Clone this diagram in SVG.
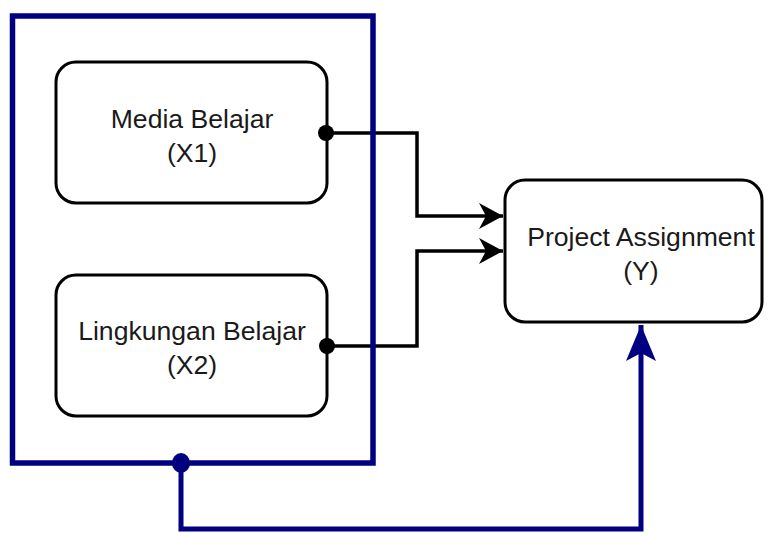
<svg xmlns="http://www.w3.org/2000/svg" width="768" height="533" viewBox="0 0 768 533">
<style>
.node{fill:#fff;stroke:#000;stroke-width:3}
.lbl{font-family:"Liberation Sans",Arial,sans-serif;font-size:26.6px;fill:#1a1a1a;text-anchor:middle}
.bk{fill:none;stroke:#000;stroke-width:3.5}
.bl{fill:none;stroke:#000080;stroke-width:5}
</style>
<defs>
<marker id="ab" markerUnits="userSpaceOnUse" markerWidth="30" markerHeight="30" viewBox="0 0 30 30" refX="24" refY="15" orient="auto">
<path d="M24,15 L0,2 L7,15 L0,28 Z" fill="#000"/>
</marker>
<marker id="abl" markerUnits="userSpaceOnUse" markerWidth="40" markerHeight="40" viewBox="0 0 40 40" refX="36" refY="20" orient="auto">
<path d="M36,20 L0,5 L8,20 L0,35 Z" fill="#000080"/>
</marker>
</defs>
<rect x="0" y="0" width="768" height="533" fill="#fff"/>
<g id="node-x1">
<rect class="node" x="56" y="62" width="271" height="141" rx="20"/>
<text class="lbl" x="192" y="128">Media Belajar</text>
<text class="lbl" x="192" y="162">(X1)</text>
</g>
<g id="node-x2">
<rect class="node" x="56" y="275" width="271" height="141" rx="20"/>
<text class="lbl" x="192" y="340">Lingkungan Belajar</text>
<text class="lbl" x="192" y="374">(X2)</text>
</g>
<g id="node-y">
<rect class="node" x="505" y="180" width="257" height="142" rx="20"/>
<text class="lbl" x="641" y="246">Project Assignment</text>
<text class="lbl" x="641" y="280">(Y)</text>
</g>
<g id="connectors">
<path class="bk" d="M326,133 H417 V216 H503" marker-end="url(#ab)"/>
<path class="bk" d="M327,346 H417 V251 H503" marker-end="url(#ab)"/>
<circle cx="326" cy="133" r="8" fill="#000"/>
<circle cx="327" cy="346" r="8" fill="#000"/>
</g>
<g id="group-x">
<rect x="12.5" y="16" width="360.5" height="447" fill="none" stroke="#000080" stroke-width="5.5"/>
</g>
<g id="connector-group">
<path class="bl" d="M181,463 V529 H641 V325" marker-end="url(#abl)"/>
<ellipse cx="181" cy="463" rx="9" ry="10" fill="#000080"/>
</g>
</svg>
